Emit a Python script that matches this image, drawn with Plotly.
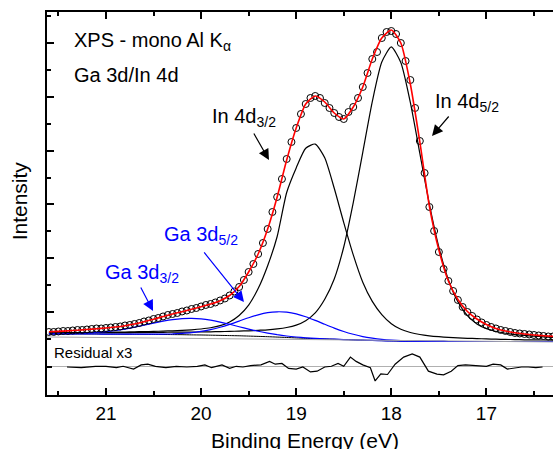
import plotly.graph_objects as go

FONT = "Liberation Sans, Arial, sans-serif"

# ---------------- data ----------------
binding_energy = [
    21.60, 21.55, 21.50, 21.45, 21.40, 21.35, 21.30, 21.25, 21.20, 21.15, 21.10, 21.05,
    21.00, 20.95, 20.90, 20.85, 20.80, 20.75, 20.70, 20.65, 20.60, 20.55,
    20.50, 20.45, 20.40, 20.35, 20.30, 20.25, 20.20, 20.15, 20.10, 20.05,
    20.00, 19.95, 19.90, 19.85, 19.80, 19.75, 19.70, 19.65, 19.60, 19.55,
    19.50, 19.45, 19.40, 19.35, 19.30, 19.25, 19.20, 19.15, 19.10, 19.05,
    19.00, 18.95, 18.90, 18.85, 18.80, 18.75, 18.70, 18.65, 18.60, 18.55,
    18.50, 18.45, 18.40, 18.35, 18.30, 18.25, 18.20, 18.15, 18.10, 18.05,
    18.00, 17.95, 17.90, 17.85, 17.80, 17.75, 17.70, 17.65, 17.60, 17.55,
    17.50, 17.45, 17.40, 17.35, 17.30, 17.25, 17.20, 17.15, 17.10, 17.05,
    17.00, 16.95, 16.90, 16.85, 16.80, 16.75, 16.70, 16.65, 16.60, 16.55,
    16.50, 16.45, 16.40, 16.35, 16.30,
]
measured_intensity = [
    7, 7, 7.5, 8, 8, 8.5, 9, 9, 9.5, 10, 10.5, 10.5,
    11, 11.5, 12, 12.5, 13.5, 14, 15, 16, 17.5, 18.5,
    20, 21, 22.5, 24, 25, 26, 27.5, 28.5, 30, 31,
    32.5, 34, 35, 36.5, 38.5, 40.5, 43.5, 47.5, 52, 59,
    67, 75, 85, 96, 110, 127, 142, 160, 180, 197,
    211, 225, 235, 241, 243, 241, 236, 231, 226, 222,
    220, 227, 232, 241, 252, 266, 280, 287, 301, 307,
    308, 305, 296, 278, 259, 231, 198, 166, 132, 108,
    87, 70, 58, 48, 39, 32, 27, 23, 19.5, 16.5,
    14, 12, 10.5, 9, 8, 7, 6, 5.5, 5, 4.5,
    4, 3.5, 3, 2.5, 2.5,
]

fit_energy = [
    21.6, 21.5, 21.4, 21.3, 21.2, 21.1, 21.0,
    20.9, 20.8, 20.7, 20.6, 20.5, 20.4, 20.3, 20.2, 20.1, 20.0,
    19.9, 19.8, 19.7, 19.6, 19.5, 19.4, 19.3, 19.2, 19.1, 19.0,
    18.9, 18.8, 18.7, 18.6, 18.5, 18.4, 18.3, 18.2, 18.1, 18.0,
    17.9, 17.8, 17.7, 17.6, 17.5, 17.4, 17.3, 17.2, 17.1, 17.0,
    16.9, 16.8, 16.7, 16.6, 16.5, 16.4, 16.3,
]
fit_envelope = [
    7.2, 7.6, 8.1, 8.8, 9.5, 10.2, 11.0,
    12.0, 13.3, 15.0, 17.2, 19.8, 22.4, 25.0, 27.3, 29.7, 32.2,
    34.9, 38.3, 43.5, 52.5, 67, 85, 110, 142, 179, 211,
    235, 243, 237, 226, 220, 232, 252, 280, 301, 309,
    296, 255, 197, 133, 89, 58, 39.5, 27.5, 20, 14.5,
    10.5, 8, 6.2, 5, 4, 3.2, 2.6,
]
background = [
    5.0, 5.0, 5.0, 5.0, 5.0, 5.0, 4.9,
    4.9, 4.8, 4.8, 4.7, 4.6, 4.5, 4.4, 4.3, 4.1, 4.0,
    3.8, 3.6, 3.4, 3.2, 2.9, 2.6, 2.3, 1.9, 1.5, 1.1,
    0.7, 0.3, 0.0, -0.3, -0.6, -0.9, -1.2, -1.4, -1.7, -1.9,
    -2.1, -2.2, -2.3, -2.4, -2.4, -2.5, -2.5, -2.5, -2.5, -2.5,
    -2.5, -2.5, -2.5, -2.5, -2.5, -2.5, -2.5,
]
in4d_52 = [
    6.0, 6.0, 6.1, 6.2, 6.2, 6.3, 6.3,
    6.4, 6.4, 6.5, 6.6, 6.6, 6.7, 6.8, 6.9, 6.9, 7.1,
    7.2, 7.4, 7.6, 7.9, 8.2, 8.7, 9.2, 10.1, 11.5, 13.9,
    18.3, 26.1, 39.7, 60.0, 92.0, 136.4, 186.7, 237.4, 276.9, 292.1,
    276.5, 236.6, 185.6, 134.9, 91.8, 59.3, 37.2, 23.3, 15.1, 10.3,
    7.5, 5.7, 4.4, 3.6, 2.8, 2.2, 1.7,
]
in4d_32 = [
    6.1, 6.2, 6.3, 6.4, 6.5, 6.7, 6.7,
    6.9, 7.0, 7.2, 7.4, 7.6, 7.9, 8.2, 8.6, 9.2, 10.0,
    11.2, 13.3, 17.0, 23.5, 33.9, 50.4, 73.3, 102.5, 146.5, 171.1,
    190.7, 194.9, 181.2, 150.7, 116.4, 84.1, 56.8, 37.6, 24.4, 15.3,
    9.7, 6.5, 4.5, 3.2, 2.3, 1.6, 1.1, 0.7, 0.4, 0.1,
    -0.2, -0.4, -0.6, -0.8, -0.9, -1.0, -1.1,
]
ga3d_52 = [
    5.0, 5.0, 5.0, 5.0, 5.0, 5.0, 4.9,
    4.9, 4.8, 4.8, 4.8, 4.8, 4.9, 5.1, 5.6, 6.3, 7.6,
    9.4, 11.7, 14.6, 17.9, 21.2, 24.1, 26.3, 27.2, 26.8, 25.1,
    22.2, 18.6, 14.7, 10.9, 7.5, 4.7, 2.4, 0.8, -0.4, -1.2,
    -1.7, -2.0, -2.2, -2.4, -2.4, -2.5, -2.5, -2.5, -2.5, -2.5,
    -2.5, -2.5, -2.5, -2.5, -2.5, -2.5, -2.5,
]
ga3d_32 = [
    5.1, 5.15, 5.3, 5.5, 5.9, 6.5, 7.3,
    8.5, 9.9, 11.8, 13.75, 15.9, 17.8, 19.4, 20.4, 20.6, 20.1,
    18.8, 16.9, 14.7, 12.25, 9.9, 7.7, 5.9, 4.3, 3.0, 2.0,
    1.2, 0.6, 0.15, -0.2, -0.6, -0.9, -1.2, -1.4, -1.7, -1.9,
    -2.1, -2.2, -2.3, -2.4, -2.4, -2.5, -2.5, -2.5, -2.5, -2.5,
    -2.5, -2.5, -2.5, -2.5, -2.5, -2.5, -2.5,
]
reference_energy = [21.62, 16.30]
reference_level = [2.0, -3.0]

residual_energy = [
    21.41, 21.26, 21.11, 21.00, 20.89, 20.82, 20.71, 20.63, 20.56, 20.48,
    20.37, 20.26, 20.15, 20.04, 19.96, 19.89, 19.78, 19.70, 19.63, 19.56,
    19.48, 19.37, 19.28, 19.22, 19.15, 19.08, 19.00, 18.93, 18.85, 18.78,
    18.70, 18.63, 18.56, 18.50, 18.43, 18.37, 18.30, 18.22, 18.17, 18.11,
    18.04, 17.96, 17.87, 17.78, 17.70, 17.61, 17.52, 17.45, 17.37, 17.30,
    17.22, 17.11, 17.00, 16.93, 16.85, 16.78, 16.70, 16.63, 16.56, 16.48,
    16.41,
]
residual_x3 = [
    0, -0.7, 0.7, 0.7, -0.7, 0.7, -2.1, 2.1, 2.8, 0.7,
    -0.7, 0.7, 0, 0.7, 2.1, -0.7, 2.1, -1.4, 0.7, 0,
    1.4, 2.1, 5.6, 2.8, 3.5, -1.4, -2.1, 0, -4.9, -4.2,
    0, 0.7, 3.5, 0.7, 9.9, 5.6, 2.1, -0.7, -14, -7,
    -7.5, 2.8, 9.9, 13, 9.9, -4.2, -7.1, -7.8, -4.2, 1.4,
    2.1, 1.4, 0.7, 2.8, 2.1, -2.1, -0.7, 0, 0, -0.7,
    0,
]

x_tick_values = [21, 20, 19, 18, 17]
x_tick_labels = ["21", "20", "19", "18", "17"]

# ---------------- figure ----------------
fig = go.Figure()

fig.add_trace(go.Scatter(x=reference_energy, y=reference_level, xaxis="x2", yaxis="y",
                         mode="lines", line=dict(color="#a6a6a6", width=1), hoverinfo="skip"))
fig.add_trace(go.Scatter(x=fit_energy, y=background, mode="lines",
                         line=dict(color="black", width=1, shape="spline", smoothing=0.6)))
for comp in (in4d_52, in4d_32):
    fig.add_trace(go.Scatter(x=fit_energy, y=comp, mode="lines",
                             line=dict(color="black", width=1.2, shape="spline", smoothing=0.6)))
for comp in (ga3d_52, ga3d_32):
    fig.add_trace(go.Scatter(x=fit_energy, y=comp, mode="lines",
                             line=dict(color="#0000ff", width=1.2, shape="spline", smoothing=0.6)))
fig.add_trace(go.Scatter(x=binding_energy, y=measured_intensity, mode="markers",
                         marker=dict(symbol="circle-open", size=7, color="black",
                                     line=dict(width=1, color="black"))))
fig.add_trace(go.Scatter(x=fit_energy, y=fit_envelope, mode="lines",
                         line=dict(color="#ff0000", width=1.6, shape="spline", smoothing=0.6)))
fig.add_trace(go.Scatter(x=residual_energy, y=residual_x3, xaxis="x", yaxis="y2", mode="lines",
                         line=dict(color="black", width=1.2)))

axis_line = dict(showline=True, linewidth=2, linecolor="black", showgrid=False, zeroline=False)
minor_x = dict(ticks="inside", ticklen=4, tickwidth=1.5, tickcolor="black", tick0=0, dtick=0.5)

fig.update_layout(
    width=553, height=449,
    margin=dict(l=47, r=0, t=12, b=54, pad=0),
    paper_bgcolor="white", plot_bgcolor="white",
    showlegend=False,
    font=dict(family=FONT, size=19, color="black"),
    xaxis=dict(range=[21.62, 16.30], anchor="y2", domain=[0, 1], ticks="inside", ticklen=7,
               tickwidth=2, tickcolor="black", tickvals=x_tick_values, ticktext=x_tick_labels,
               tickfont=dict(size=19, family=FONT), minor=minor_x, **axis_line),
    xaxis2=dict(range=[21.62, 16.30], overlaying="x", anchor="y", side="top", ticks="inside",
                ticklen=7, tickwidth=2, tickcolor="black", tickvals=x_tick_values,
                showticklabels=False, minor=minor_x, **axis_line),
    yaxis=dict(domain=[0.128, 1], range=[-7, 327], anchor="x", ticks="inside", ticklen=7,
               tickwidth=2, tickcolor="black", tickmode="linear", tick0=26.9, dtick=53.8,
               showticklabels=False,
               minor=dict(ticks="inside", ticklen=4, tickwidth=1.5, tickcolor="black",
                          tick0=0, dtick=26.9),
               **axis_line),
    yaxis2=dict(domain=[0, 0.128], range=[-28, 21], anchor="x", ticks="inside", ticklen=5,
                tickwidth=1.5, tickcolor="black", tickvals=[0], showticklabels=False,
                showline=True, linewidth=2, linecolor="black", showgrid=False,
                zeroline=True, zerolinecolor="#b0b0b0", zerolinewidth=1),
)

ann = []
def text(x, y, s, size=20, color="black", yref="y"):
    ann.append(dict(x=x, y=y, xref="x", yref=yref, text=s, showarrow=False, xanchor="left",
                    yanchor="middle", font=dict(family=FONT, size=size, color=color)))

def arrow(x0, y0, x1, y1, color="black"):
    ann.append(dict(x=x1, y=y1, ax=x0, ay=y0, xref="x", yref="y", axref="x", ayref="y",
                    text="", showarrow=True, arrowhead=2, arrowsize=1.8, arrowwidth=1.2,
                    arrowcolor=color, standoff=0, startstandoff=0))

text(21.357, 298, "XPS - mono Al K<sub>α</sub>")
text(21.357, 264, "Ga 3d/In 4d")
text(19.906, 221, "In 4d<sub>3/2</sub>")
text(17.562, 236, "In 4d<sub>5/2</sub>")
text(20.411, 103, "Ga 3d<sub>5/2</sub>", color="#0000ff")
text(21.031, 65, "Ga 3d<sub>3/2</sub>", color="#0000ff")
text(21.567, 14, "Residual x3", size=15, yref="y2")

arrow(19.454, 207, 19.286, 179)
arrow(17.383, 224, 17.572, 203)
arrow(19.980, 88, 19.549, 37, color="#0000ff")
arrow(20.642, 53, 20.505, 28, color="#0000ff")

ann.append(dict(x=-0.055, y=0.506, xref="paper", yref="paper", text="Intensity",
                textangle=-90, showarrow=False, xanchor="center", yanchor="middle",
                font=dict(family=FONT, size=21, color="black")))
ann.append(dict(x=0.51, y=-0.12, xref="paper", yref="paper", text="Binding Energy (eV)",
                showarrow=False, xanchor="center", yanchor="middle",
                font=dict(family=FONT, size=21, color="black")))

fig.update_layout(annotations=ann)
fig.write_html("out.html")
